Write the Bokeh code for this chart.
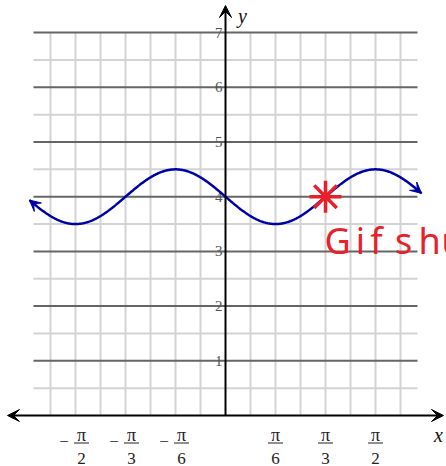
import math
import numpy as np
from bokeh.plotting import figure
from bokeh.models import Arrow, VeeHead, Range1d
from bokeh.core.properties import value
from bokeh.embed import file_html
from bokeh.resources import INLINE

# ---- graphed function: y = MIDLINE - AMPLITUDE * sin(FREQ * x) ----
MIDLINE = 4.0
AMPLITUDE = 0.5
FREQ = 3.0
X_EXTENT = 2.053          # curve runs from -X_EXTENT to +X_EXTENT

# ---- axis ticks ----
x_tick_values = [-math.pi / 2, -math.pi / 3, -math.pi / 6, math.pi / 6, math.pi / 3, math.pi / 2]
x_tick_signs = ["\u2212", "\u2212", "\u2212", "", "", ""]
x_tick_numerators = ["\u03c0"] * 6
x_tick_denominators = ["2", "3", "6", "6", "3", "2"]
y_tick_values = [1, 2, 3, 4, 5, 6, 7]
y_tick_labels = ["1", "2", "3", "4", "5", "6", "7"]

# ---- hand-drawn mark ----
mark_point = (math.pi / 3, 4.0)
note_letters = ["G", "i", "f", "s", "h", "u"]

# ---- canvas geometry ----
W, H = 446, 466
OX, OY = 225, 415                  # pixel position of the origin
PX_X = 25 / (math.pi / 12)         # pixels per x unit
PX_Y = 54.7                        # pixels per y unit


def ux(px):
    return px / PX_X


def uy(px):
    return px / PX_Y


p = figure(width=W, height=H, output_backend="svg", toolbar_location=None,
           x_axis_type=None, y_axis_type=None, min_border=0,
           x_range=Range1d(-ux(OX), ux(W - OX)),
           y_range=Range1d(-uy(H - OY), uy(OY)))
p.outline_line_color = None
p.grid.visible = False
p.background_fill_color = "white"

# ---- grid ----
gx0, gx1 = -ux(192), ux(192)
minor_x = [k * math.pi / 12 for k in range(-7, 8) if k != 0]
p.segment(x0=minor_x, y0=[0] * len(minor_x), x1=minor_x, y1=[7] * len(minor_x),
          line_color="#d3d3d3", line_width=2)
minor_y = [k + 0.5 for k in range(0, 7)]
p.segment(x0=[gx0] * len(minor_y), y0=minor_y, x1=[gx1] * len(minor_y), y1=minor_y,
          line_color="#d3d3d3", line_width=2)
p.segment(x0=[gx0] * len(y_tick_values), y0=y_tick_values, x1=[gx1] * len(y_tick_values),
          y1=y_tick_values, line_color="#666666", line_width=2)

# ---- y tick labels ----
p.text(x=[-ux(3)] * len(y_tick_values), y=y_tick_values, text=y_tick_labels,
       text_align="right", text_baseline="middle", text_font=value("Liberation Serif"),
       text_font_size="15px", text_color="#555555")

# ---- x tick labels (stacked fractions) ----
serif = value("Liberation Serif")
frac_x = [v + (ux(6) if s else 0) for v, s in zip(x_tick_values, x_tick_signs)]
p.text(x=frac_x, y=[-uy(19)] * 6, text=x_tick_numerators, text_align="center",
       text_baseline="alphabetic", text_font=serif,
       text_font_size="18px", text_color="#222222")
p.text(x=frac_x, y=[-uy(43)] * 6, text=x_tick_denominators, text_align="center",
       text_baseline="alphabetic", text_font=serif,
       text_font_size="17px", text_color="#222222")
p.segment(x0=[f - ux(7.5) for f in frac_x], y0=[-uy(27.5)] * 6,
          x1=[f + ux(7.5) for f in frac_x], y1=[-uy(27.5)] * 6,
          line_color="#222222", line_width=1)
neg_x = [v - ux(11.5) for v, s in zip(x_tick_values, x_tick_signs) if s]
p.text(x=neg_x, y=[-uy(26)] * len(neg_x), text=[s for s in x_tick_signs if s],
       text_align="center", text_baseline="middle", text_font=serif,
       text_font_size="17px", text_color="#222222")

# ---- axes ----
head = dict(size=12, fill_color="black", line_color="black", line_width=1)
p.add_layout(Arrow(x_start=-ux(OX - 7), y_start=0, x_end=ux(443 - OX), y_end=0,
                   start=VeeHead(**head), end=VeeHead(**head),
                   line_color="black", line_width=2))
p.add_layout(Arrow(x_start=0, y_start=0, x_end=0, y_end=uy(OY - 5),
                   end=VeeHead(**head), line_color="black", line_width=2))
p.text(x=[ux(438 - OX)], y=[-uy(434 - OY)], text=["x"], text_align="center",
       text_baseline="middle", text_font=serif,
       text_font_style="italic", text_font_size="20px", text_color="#111111")
p.text(x=[ux(242 - OX)], y=[uy(OY - 15)], text=["y"], text_align="center",
       text_baseline="middle", text_font=serif,
       text_font_style="italic", text_font_size="20px", text_color="#111111")

# ---- curve ----
BLUE = "#0000a8"
xs = np.linspace(-X_EXTENT, X_EXTENT, 600)
ys = MIDLINE - AMPLITUDE * np.sin(FREQ * xs)
p.line(xs, ys, line_color=BLUE, line_width=2.5)
chead = dict(size=11, fill_color=BLUE, line_color=BLUE, line_width=1)
p.add_layout(Arrow(x_start=xs[3], y_start=ys[3], x_end=xs[0], y_end=ys[0],
                   end=VeeHead(**chead), line_color=BLUE, line_width=2.5))
p.add_layout(Arrow(x_start=xs[-4], y_start=ys[-4], x_end=xs[-1], y_end=ys[-1],
                   end=VeeHead(**chead), line_color=BLUE, line_width=2.5))

# ---- red hand-drawn star and note ----
RED = "#e8202a"
p.scatter(x=[mark_point[0]], y=[mark_point[1]], marker="asterisk", size=32,
          line_color=RED, line_width=3.5)
letter_px = [337, 360, 376, 403, 429, 452]
p.text(x=[ux(px - OX) for px in letter_px], y=[uy(OY - 240)] * len(note_letters),
       text=note_letters, text_align="center", text_baseline="alphabetic",
       text_font=value("Noto Sans"), text_font_size="36px",
       text_color=RED)

open("out.html", "w").write(file_html(p, INLINE))
